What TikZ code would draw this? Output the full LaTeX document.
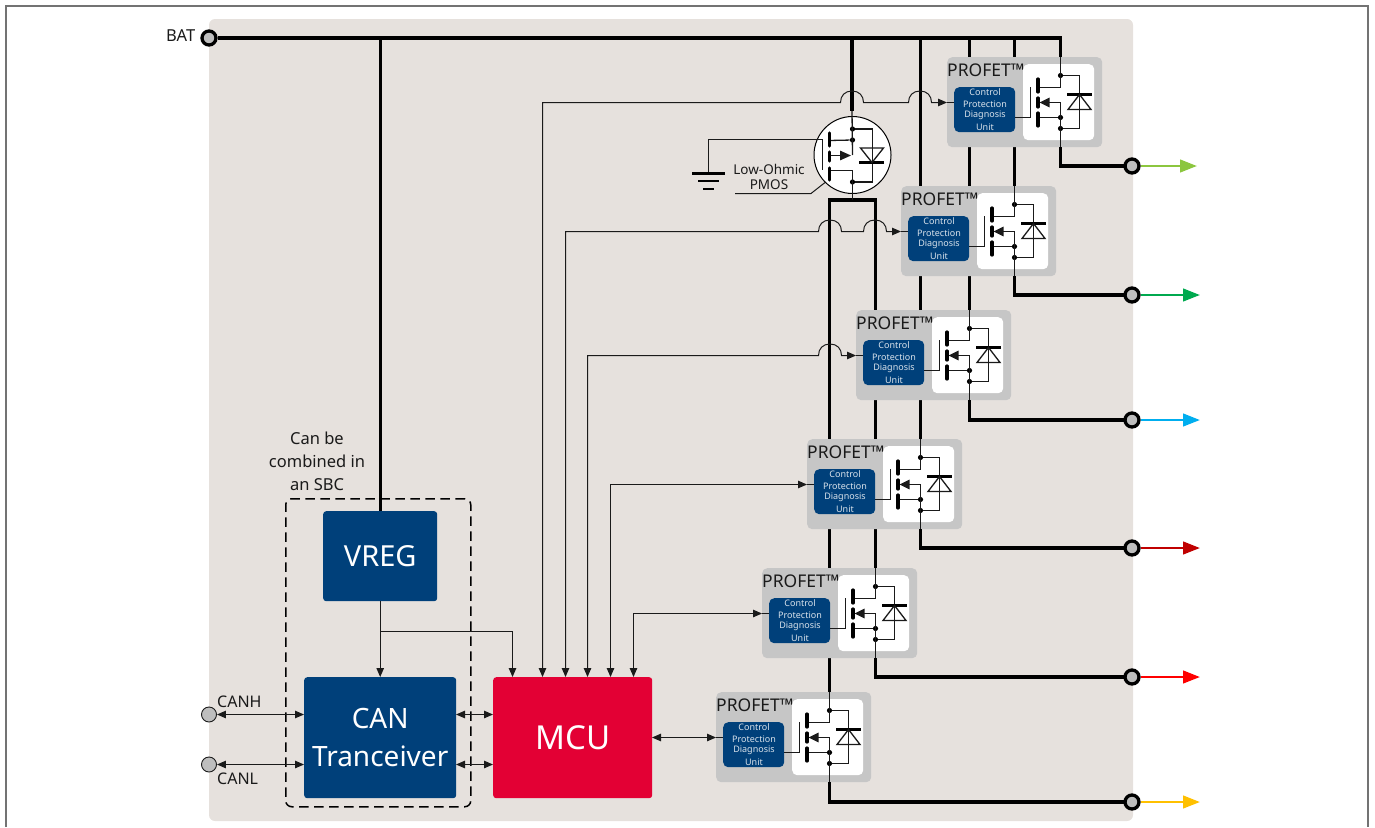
\documentclass[tikz,border=0pt]{standalone}
\usepackage{fontspec}
\setmainfont{Noto Sans}
\usetikzlibrary{arrows.meta}
\definecolor{bgc}{HTML}{E6E1DD}
\definecolor{grayc}{HTML}{C6C6C6}
\definecolor{bluec}{HTML}{00407A}
\definecolor{redc}{HTML}{E30034}
\definecolor{termc}{HTML}{BEBEBE}
\definecolor{inkc}{HTML}{1A1A1A}
\definecolor{o1c}{HTML}{8CC63F}
\definecolor{o2c}{HTML}{00A94F}
\definecolor{o3c}{HTML}{00AEEF}
\definecolor{o4c}{HTML}{C00000}
\definecolor{o5c}{HTML}{FF0000}
\definecolor{o6c}{HTML}{FFC000}
\newcommand{\fs}[1]{\fontsize{#1}{#1}\selectfont}
\tikzset{
  bus/.style={line width=3.2pt,draw=black,line join=miter},
  wire/.style={line width=1pt,draw=inkc},
  fine/.style={line width=1.3pt,draw=inkc},
  tip/.style={-{Triangle[length=9pt,width=7.5pt]}},
  tips/.style={{Triangle[length=9pt,width=7.5pt]}-{Triangle[length=9pt,width=7.5pt]}},
  bar/.style={line width=3.2pt,draw=black,line cap=round},
  dot/.style={circle,fill=black,inner sep=0pt,minimum size=5.2pt},
  block/.style={rectangle,rounded corners=3pt,fill=bluec,text=white,inner sep=0pt,align=center,anchor=north west},
  terminal/.style={circle,draw=black,line width=3.3pt,fill=termc,inner sep=0pt,minimum size=14pt},
  canterm/.style={circle,draw=inkc,line width=.9pt,fill=termc,inner sep=0pt,minimum size=15pt},
  outarrow/.style={line width=2.7pt,-{Triangle[length=17pt,width=12.5pt]}},
  label/.style={text=inkc,inner sep=0pt},
}
\newcommand{\profet}[3]{%
  \begin{scope}[shift={(#2,#3)}]
    \node[rectangle,rounded corners=5pt,fill=grayc,minimum width=155pt,minimum height=90pt,anchor=north west,inner sep=0pt] (#1) at (0,0) {};
    \node[rectangle,rounded corners=5pt,fill=white,minimum width=71pt,minimum height=76pt,anchor=north west,inner sep=0pt] (#1w) at (76,7) {};
    \node[block,rounded corners=5pt,minimum width=61pt,minimum height=45pt,text=white] (#1c) at (7,30) {};
    \node[label,anchor=center,text=white!85!bluec] (#1t1) at (38,35.5) {\fs{9}Control};
    \node[label,anchor=center,text=white!85!bluec] (#1t2) at (38,46.8) {\fs{9}Protection};
    \node[label,anchor=center,text=white!85!bluec] (#1t3) at (38,58.5) {\fs{9}Diagnosis};
    \node[label,anchor=center,text=white!85!bluec] (#1t4) at (38,70) {\fs{9}Unit};
    \node[label,anchor=base west] (#1t) at (0,19.5) {\fs{17.5}PROFET™};
    \coordinate (#1top) at (113.5,0);
    \coordinate (#1bot) at (113.5,90);
    \coordinate (#1in) at (0,45.5);
    \coordinate (#1gate) at (83.5,60.5);
    \coordinate (#1mid) at (113.5,45.5);
    \node[dot] (#1d1) at (113.5,18.5) {};
    \node[dot] (#1d2) at (113.5,60.5) {};
    \node[dot] (#1d3) at (113.5,71.5) {};
    \draw[fine] (#1top) -- (113.5,30.5) -- (91,30.5);
    \draw[fine] (#1mid) -- (#1bot);
    \draw[fine] (#1c.east |- #1gate) -- (#1gate) -- (83.5,30);
    \draw[fine] (91,60.5) -- (#1d2);
    \draw[fine,-{Triangle[length=10pt,width=9.5pt]}] (#1mid) -- (92.5,45.5);
    \draw[bar] (91,22) -- (91,35);
    \draw[bar] (91,41) -- (91,50);
    \draw[bar] (91,56) -- (91,69);
    \draw[fine] (#1d1) -- (132.5,18.5) -- (132.5,71.5) -- (#1d3);
    \draw[line width=2.2pt] (120,37.5) -- (145,37.5);
    \draw[fine] (132.5,37.5) -- (121,52.5) -- (144,52.5) -- cycle;
    \draw[wire] (#1in) -- (#1c.west |- #1in);
  \end{scope}}
\newcommand{\br}[2]{-- ({#1-11.5},#2) .. controls ({#1-11.5},{#2-7}) and ({#1-7},{#2-11.5}) .. (#1,{#2-11.5}) .. controls ({#1+7},{#2-11.5}) and ({#1+11.5},{#2-7}) .. ({#1+11.5},#2)}
\begin{document}
\begin{tikzpicture}[x=1pt,y=-1pt]
\useasboundingbox (0,0) rectangle (1375,827);
\draw[line width=1.2pt,draw=black!55] (6,827) -- (6,6) -- (1368,6) -- (1368,827);
\fill[bgc,rounded corners=6pt] (209,19) rectangle (1133,821);

% blocks
\node[block,minimum width=114pt,minimum height=90pt] (vreg) at (323,511) {\fs{29}VREG};
\node[block,minimum width=152pt,minimum height=121pt,font=\fontsize{28}{38}\selectfont] (can) at (304,677) {CAN\\Tranceiver};
\node[block,fill=redc,minimum width=159pt,minimum height=121pt] (mcu) at (493,677) {\fs{33}MCU};
\node[rectangle,draw=black,rounded corners=6pt,dash pattern=on 9.5pt off 5.5pt,line width=1.5pt,minimum width=185pt,minimum height=308pt,anchor=north west,inner sep=0pt] (sbc) at (285,498) {};
\node[label,align=center,font=\fontsize{16.5}{23}\selectfont] (sbctext) at (317,461) {Can be\\combined in\\an SBC};

% terminals
\node[terminal] (bat) at (209,38) {};
\node[label,anchor=east] (battext) at (195.5,36) {\fs{16.5}BAT};
\node[canterm] (canh) at (209,714.5) {};
\node[canterm] (canl) at (209,764.5) {};
\node[label,anchor=base west] (canhtext) at (217,707) {\fs{16}CANH};
\node[label,anchor=base west] (canltext) at (217,784) {\fs{16}CANL};

% named points
\coordinate (pmostop) at (852,111);
\coordinate (split) at (852.5,200);
\coordinate (splitl) at (830,200);
\coordinate (splitr) at (875,200);
\coordinate (p1) at (542.5,677);
\coordinate (p2) at (565.5,677);
\coordinate (p3) at (587.5,677);
\coordinate (p4) at (610.5,677);
\coordinate (p5) at (633.5,677);
\coordinate (p0) at (512.5,677);
\coordinate (branch) at (380,631.5);
\coordinate (canmcua) at (456,714.5);
\coordinate (mcucana) at (493,714.5);
\coordinate (canmcub) at (456,764.5);
\coordinate (mcucanb) at (493,764.5);
\coordinate (canhin) at (304,714.5);
\coordinate (canlin) at (304,764.5);
\coordinate (m1t) at (1060.5,57);
\coordinate (m2t) at (1014.5,186);
\coordinate (m3t) at (969.5,310);
\coordinate (m4t) at (920.5,439);
\coordinate (m5t) at (875.5,568);
\coordinate (m6t) at (829.5,692);
\coordinate (mcuside) at (652,737.5);

% power bus, under the modules
\draw[bus] (bat) -| (m1t);
\draw[bus] (vreg.north |- bat) -- (vreg.north);
\draw[bus] (m2t |- bat) -- (m2t);
\draw[bus] (m3t |- bat) -- (m3t);
\draw[bus] (m4t |- bat) -- (m4t);
\draw[bus] (pmostop |- bat) -- (pmostop);
\draw[bus] (m6t) -- (m6t |- splitl) -- (m5t |- splitr) -- (m5t);

% modules
\profet{ma}{947}{57}
\profet{mb}{901}{186}
\profet{mc}{856}{310}
\profet{md}{807}{439}
\profet{me}{762}{568}
\profet{mf}{716}{692}

% PMOS
\node[circle,draw=black,line width=1pt,fill=white,minimum size=77pt,inner sep=0pt] (pmos) at (852.5,155) {};
\node[dot] (pd1) at (852.5,129) {};
\node[dot] (pd2) at (852.5,140) {};
\node[dot] (pd3) at (852.5,182) {};
\draw[fine] (pmostop) -- (852.5,155);
\draw[fine,-{Triangle[length=11pt,width=9.5pt]}] (830,155.5) -- (851,155.5);
\draw[fine] (829,140.5) -- (pd2);
\draw[fine] (829,170.5) -- (852.5,170.5) -- (split);
\draw[fine] (pd1) -- (872.5,129) -- (872.5,182) -- (pd3);
\draw[bar] (829.5,133) -- (829.5,146);
\draw[bar] (829.5,152) -- (829.5,161);
\draw[bar] (829.5,168) -- (829.5,180);
\draw[line width=2.2pt] (859,162.5) -- (884,162.5);
\draw[fine] (872,162.5) -- (860.5,148) -- (883.5,148) -- cycle;
\draw[fine] (708.5,173) -- (708.5,139.5) -- (822.5,139.5) -- (822.5,170);
\node[label,align=center,font=\fontsize{13.5}{15}\selectfont] (pmostext) at (769,176.5) {Low-Ohmic\\PMOS};
\draw[wire] (735,193.5) -- (811,193.5) -- (pmos.south west);
\draw[line width=2.6pt] (692,173.5) -- (725,173.5);
\draw[line width=2.6pt] (698,181) -- (719,181);
\draw[line width=2.6pt] (703,189) -- (714,189);

% outputs
\draw[bus] (mabot) |- (1132,166);
\draw[bus] (mbbot) |- (1132,295);
\draw[bus] (mcbot) |- (1132,420);
\draw[bus] (mdbot) |- (1132,548);
\draw[bus] (mebot) |- (1132,677);
\draw[bus] (mfbot) |- (1132,802);
\node[terminal] (o1) at (1132,166) {};
\node[terminal] (o2) at (1132,295) {};
\node[terminal] (o3) at (1132,420) {};
\node[terminal] (o4) at (1132,548) {};
\node[terminal] (o5) at (1132,677) {};
\node[terminal] (o6) at (1132,802) {};
\coordinate (e1) at (1197,166);
\coordinate (e2) at (1200,295);
\coordinate (e3) at (1200,420);
\coordinate (e4) at (1200,548);
\coordinate (e5) at (1200,677);
\coordinate (e6) at (1200,802);
\draw[outarrow,o1c] (o1) -- (e1);
\draw[outarrow,o2c] (o2) -- (e2);
\draw[outarrow,o3c] (o3) -- (e3);
\draw[outarrow,o4c] (o4) -- (e4);
\draw[outarrow,o5c] (o5) -- (e5);
\draw[outarrow,o6c] (o6) -- (e6);

% control lines
\draw[wire,tips] (p1) -- (542.5,102.5) \br{852}{102.5} \br{920}{102.5} -- (main);
\draw[wire,tips] (p2) -- (565.5,231.5) \br{830}{231.5} \br{875}{231.5} -- (mbin);
\draw[wire,tips] (p3) -- (587.5,355.5) \br{830}{355.5} -- (mcin);
\draw[wire,tips] (p4) |- (mdin);
\draw[wire,tips] (p5) |- (mein);
\draw[wire,tips] (mcuside) -- (mfin);

% supply and bus around the MCU
\draw[wire,tip] (vreg.south) -- (can.north);
\draw[wire,tip] (branch) -| (p0);
\draw[wire,tips] (canmcua) -- (mcucana);
\draw[wire,tips] (canmcub) -- (mcucanb);
\draw[wire,tips] (canh) -- (canhin);
\draw[wire,tips] (canl) -- (canlin);
\end{tikzpicture}
\end{document}
